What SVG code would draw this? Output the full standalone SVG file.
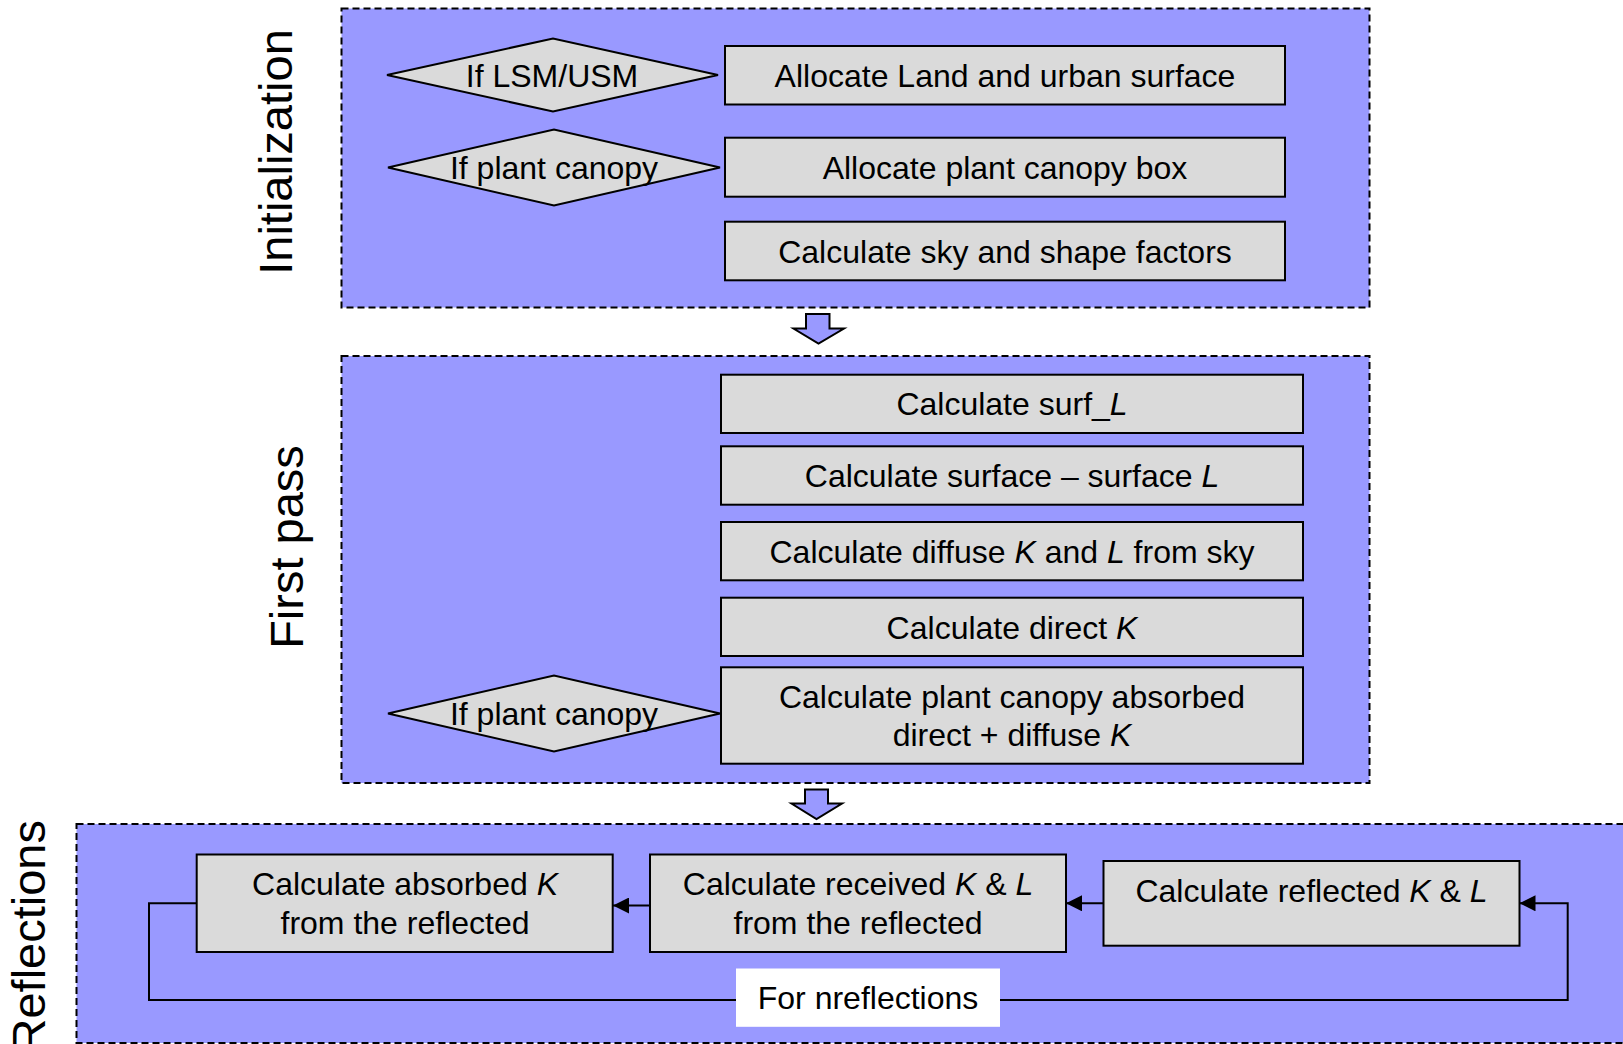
<svg xmlns="http://www.w3.org/2000/svg" width="1623" height="1044" viewBox="0 0 1623 1044">
<defs>
<style>
.stage{fill:#9999FF;stroke:#000;stroke-width:2;stroke-dasharray:7 4}
.box{fill:#DADADA;stroke:#000;stroke-width:2}
.dia{fill:#DADADA;stroke:#000;stroke-width:2}
.t{font-family:"Liberation Sans",Arial,sans-serif;font-size:32px;fill:#000;text-anchor:middle}
.side{font-family:"Liberation Sans",Arial,sans-serif;font-size:47px;fill:#000}
.conn{fill:none;stroke:#000;stroke-width:2}
.blk{fill:#9999FF;stroke:#000;stroke-width:2;stroke-linejoin:miter}
i,.it{font-style:italic}
</style>
<marker id="ah" viewBox="0 0 16 16" refX="16" refY="8" markerWidth="16" markerHeight="16" markerUnits="userSpaceOnUse" orient="auto">
<path d="M0,0 L16,8 L0,16 z" fill="#000"/>
</marker>
</defs>

<g id="stage-init">
<rect class="stage" x="341.5" y="8.5" width="1028" height="299"/>
<text class="side" text-anchor="middle" transform="translate(292,152) rotate(-90)">Initialization</text>
</g>
<g id="stage-first">
<rect class="stage" x="341.5" y="356" width="1028" height="427"/>
<text class="side" text-anchor="middle" transform="translate(303,547) rotate(-90)">First pass</text>
</g>
<g id="stage-refl">
<rect class="stage" x="76.5" y="824" width="1560" height="219"/>
<text class="side" text-anchor="end" transform="translate(45,820) rotate(-90)">Reflections</text>
</g>

<g id="arrow-init-first">
<path class="blk" d="M806,314 H829.5 V328.5 H844 L818.5,343.5 L793.5,328.5 H806 Z"/>
</g>
<g id="arrow-first-refl">
<path class="blk" d="M805,789.5 H828 V803.5 H842 L816.5,819 L791.5,803.5 H805 Z"/>
</g>

<g id="dia-lsm">
<polygon class="dia" points="387,75 553,38.5 718,75 553,111.5"/>
<text class="t" x="552" y="86.5">If LSM/USM</text>
</g>
<g id="box-alloc-land">
<rect class="box" x="725" y="46" width="560" height="58.5"/>
<text class="t" x="1005" y="86.5">Allocate Land and urban surface</text>
</g>
<g id="dia-pc1">
<polygon class="dia" points="388,167.5 554,129.5 720,167.5 554,205.5"/>
<text class="t" x="554" y="178.5">If plant canopy</text>
</g>
<g id="box-alloc-pc">
<rect class="box" x="725" y="137.7" width="560" height="59"/>
<text class="t" x="1005" y="178.5">Allocate plant canopy box</text>
</g>
<g id="box-sky">
<rect class="box" x="725" y="221.7" width="560" height="58.6"/>
<text class="t" x="1005" y="262.5">Calculate sky and shape factors</text>
</g>

<g id="box-surfL">
<rect class="box" x="721" y="374.7" width="582" height="58.3"/>
<text class="t" x="1012" y="415">Calculate surf_<tspan class="it">L</tspan></text>
</g>
<g id="box-ssL">
<rect class="box" x="721" y="446.3" width="582" height="58.4"/>
<text class="t" x="1012" y="487">Calculate surface – surface <tspan class="it">L</tspan></text>
</g>
<g id="box-diffuse">
<rect class="box" x="721" y="522" width="582" height="58.3"/>
<text class="t" x="1012" y="562.5">Calculate diffuse <tspan class="it">K</tspan> and <tspan class="it">L</tspan> from sky</text>
</g>
<g id="box-direct">
<rect class="box" x="721" y="597.7" width="582" height="58.3"/>
<text class="t" x="1012" y="638.5">Calculate direct <tspan class="it">K</tspan></text>
</g>
<g id="dia-pc2">
<polygon class="dia" points="388,713.5 554,675.5 720,713.5 554,751.5"/>
<text class="t" x="554" y="724.5">If plant canopy</text>
</g>
<g id="box-pc-abs">
<rect class="box" x="721" y="667.3" width="582" height="96.4"/>
<text class="t" x="1012" y="707.5">Calculate plant canopy absorbed</text>
<text class="t" x="1012" y="745.5">direct + diffuse <tspan class="it">K</tspan></text>
</g>

<g id="box-absK">
<rect class="box" x="196.7" y="854.5" width="416" height="97.5"/>
<text class="t" x="405" y="894.5">Calculate absorbed <tspan class="it">K</tspan></text>
<text class="t" x="405" y="933.5">from the reflected</text>
</g>
<g id="box-recKL">
<rect class="box" x="650" y="854.5" width="416" height="97.5"/>
<text class="t" x="858" y="894.5">Calculate received <tspan class="it">K</tspan> &amp; <tspan class="it">L</tspan></text>
<text class="t" x="858" y="933.5">from the reflected</text>
</g>
<g id="box-refKL">
<rect class="box" x="1103.5" y="861" width="416" height="84.7"/>
<text class="t" x="1311.5" y="901.5">Calculate reflected <tspan class="it">K</tspan> &amp; <tspan class="it">L</tspan></text>
</g>

<g id="connectors">
<path class="conn" d="M650,905.5 H613" marker-end="url(#ah)"/>
<path class="conn" d="M1103.5,903.3 H1066" marker-end="url(#ah)"/>
<path class="conn" d="M196.7,903.3 H149 V1000 H1567.7 V903.3 H1519.5" marker-end="url(#ah)"/>
<rect x="736" y="968.5" width="264" height="58.3" fill="#FFFFFF"/>
<text class="t" x="868" y="1008.5">For nreflections</text>
</g>
</svg>
